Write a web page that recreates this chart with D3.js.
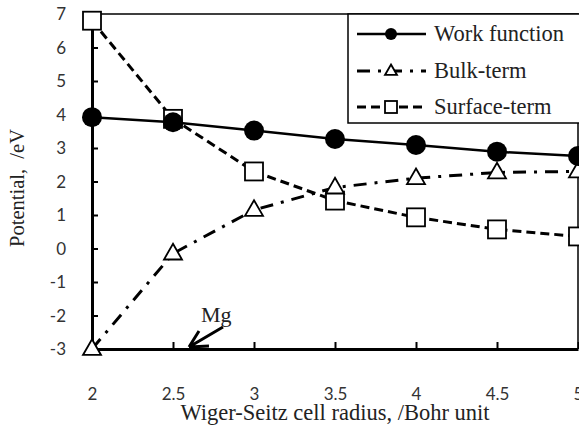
<!DOCTYPE html>
<html>
<head>
<meta charset="utf-8">
<script src="https://cdn.jsdelivr.net/npm/d3@7/dist/d3.min.js"></script>
<style>
  body { margin: 0; background: #fff; }
  svg { display: block; }
  .tick text { font-family: Lato, 'Open Sans', sans-serif; font-size: 17px; fill: #333; }
  .serif { font-family: 'Liberation Serif', 'Times New Roman', serif; fill: #222; }
</style>
</head>
<body>
<script>
  'use strict'
  const radius = [2, 2.5, 3, 3.5, 4, 4.5, 5]
  const workFunction = [3.92, 3.77, 3.52, 3.27, 3.09, 2.89, 2.76]
  const bulkTerm = [-3.0, -0.15, 1.15, 1.82, 2.1, 2.27, 2.3]
  const surfaceTerm = [6.8, 3.87, 2.3, 1.43, 0.93, 0.57, 0.36]
  const xTicks = [2, 2.5, 3, 3.5, 4, 4.5, 5]
  const yTicks = [-3, -2, -1, 0, 1, 2, 3, 4, 5, 6, 7]
  const seriesNames = ['Work function', 'Bulk-term', 'Surface-term']

  const W = 579, H = 425
  var x = d3.scaleLinear().domain([2, 5]).range([92, 578])
  var y = d3.scaleLinear().domain([-3, 7]).range([349, 14])

  var svg = d3.select('body').append('svg')
    .attr('width', W)
    .attr('height', H)

  // frame (top & right thin lines)
  svg.append('path')
    .attr('d', `M${x(2)},${y(7)}H${x(5)}V${y(-3)}`)
    .attr('fill', 'none')
    .attr('stroke', '#000')
    .attr('stroke-width', 1.5)

  const plain = d => String(d) // keep hyphen-minus like the original
  const yAxis = svg.append('g')
    .attr('transform', `translate(${x(2)},0)`)
    .call(d3.axisLeft(y).tickValues(yTicks).tickFormat(plain).tickSizeInner(-6).tickSizeOuter(0).tickPadding(26))
  const xAxis = svg.append('g')
    .attr('transform', `translate(0,${y(-3)})`)
    .call(d3.axisBottom(x).tickValues(xTicks).tickFormat(plain).tickSizeInner(-7).tickSizeOuter(0).tickPadding(39))
  ;[xAxis, yAxis].forEach(a => {
    a.select('.domain').attr('stroke-width', 3)
    a.selectAll('.tick line').attr('stroke-width', 2)
  })
  yAxis.selectAll('.tick text').attr('dy', '0.35em')

  // axis titles
  svg.append('text')
    .attr('class', 'serif')
    .attr('x', 335)
    .attr('y', 420)
    .attr('text-anchor', 'middle')
    .style('font-size', '22.5px')
    .text('Wiger-Seitz cell radius, /Bohr unit')
  svg.append('text')
    .attr('class', 'serif')
    .attr('transform', 'translate(24,188) rotate(-90)')
    .attr('text-anchor', 'middle')
    .style('font-size', '20.5px')
    .style('white-space', 'pre')
    .text('Potential,  /eV')

  const series = [
    {name: seriesNames[2], values: surfaceTerm, dash: '9,5', width: 3, marker: 'square'},
    {name: seriesNames[1], values: bulkTerm, dash: '13,8,3,8', width: 3, marker: 'triangle'},
    {name: seriesNames[0], values: workFunction, dash: null, width: 2.5, marker: 'circle'}
  ]

  const line = d3.line().x(d => x(d[0])).y(d => y(d[1]))

  function drawMarker (g, type, cx, cy, s) {
    if (type === 'circle') {
      g.append('circle').attr('cx', cx).attr('cy', cy).attr('r', s / 2).attr('fill', '#000')
    } else if (type === 'square') {
      g.append('rect').attr('x', cx - s / 2).attr('y', cy - s / 2).attr('width', s).attr('height', s)
        .attr('fill', '#fff').attr('stroke', '#000').attr('stroke-width', 1.8)
    } else {
      const h = s * 0.87
      g.append('path')
        .attr('d', `M${cx},${cy - h * 0.62}L${cx + s / 2},${cy + h * 0.38}L${cx - s / 2},${cy + h * 0.38}Z`)
        .attr('fill', '#fff').attr('stroke', '#000').attr('stroke-width', 1.8)
    }
  }

  series.forEach(s => {
    const pts = radius.map((r, i) => [r, s.values[i]])
    const g = svg.append('g')
    g.append('path')
      .attr('d', line(pts))
      .attr('fill', 'none')
      .attr('stroke', '#000')
      .attr('stroke-width', s.width)
      .attr('stroke-dasharray', s.dash)
    pts.forEach(p => drawMarker(g, s.marker, x(p[0]), y(p[1]), s.marker === 'circle' ? 20 : 18))
  })

  // legend
  const legend = svg.append('g')
  legend.append('rect')
    .attr('x', 348).attr('y', 14)
    .attr('width', 240).attr('height', 109)
    .attr('fill', '#fff').attr('stroke', '#000').attr('stroke-width', 1.5)
  const rowsY = [34, 71, 107]
  series.slice().reverse().forEach((s, i) => {
    const ly = rowsY[i]
    legend.append('line')
      .attr('x1', 357).attr('x2', 426).attr('y1', ly).attr('y2', ly)
      .attr('stroke', '#000').attr('stroke-width', s.width)
      .attr('stroke-dasharray', s.dash)
    drawMarker(legend, s.marker, 391, ly, 12)
    legend.append('text')
      .attr('class', 'serif')
      .attr('x', 434)
      .attr('y', ly)
      .attr('dy', '0.33em')
      .style('font-size', '22.5px')
      .text(s.name)
  })

  // Mg annotation
  svg.append('text')
    .attr('class', 'serif')
    .attr('x', 201)
    .attr('y', 322)
    .style('font-size', '22px')
    .text('Mg')
  svg.append('path')
    .attr('d', 'M223,327L189,347M189,347L199,331M189,347L209,346')
    .attr('fill', 'none')
    .attr('stroke', '#000')
    .attr('stroke-width', 3)
</script>
</body>
</html>
